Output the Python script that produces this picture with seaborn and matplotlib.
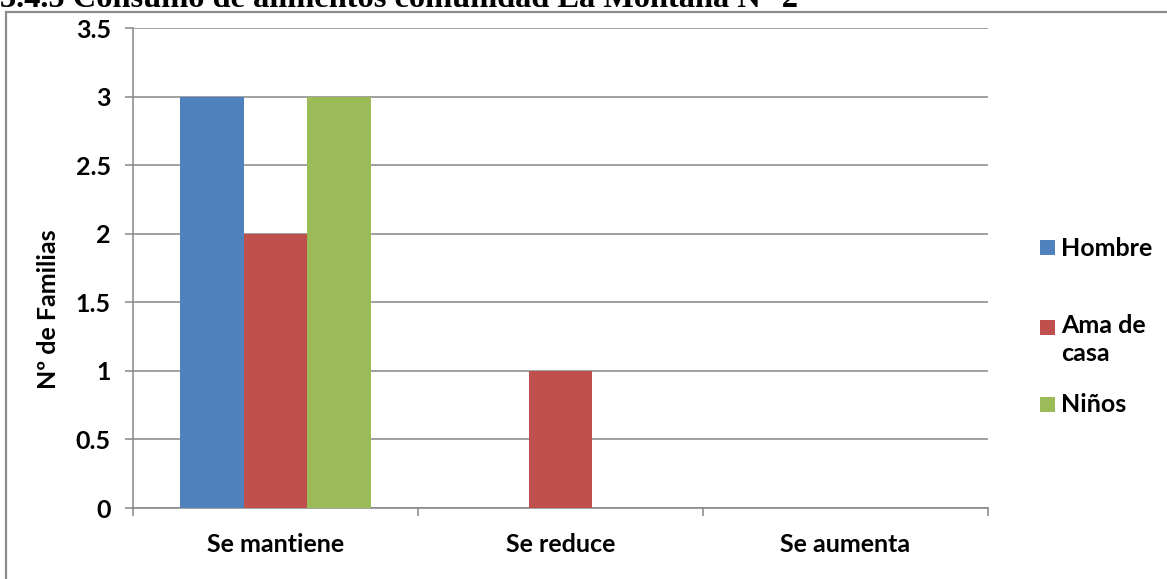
import matplotlib
matplotlib.use("Agg")
import matplotlib.pyplot as plt
from matplotlib.patches import Rectangle
import seaborn as sns
import pandas as pd

# Consumption change per group of family member
categorias = ["Se mantiene", "Se reduce", "Se aumenta"]
grupos = ["Hombre", "Ama de casa", "Niños"]
hombre = [3, 0, 0]
ama_de_casa = [2, 1, 0]
ninos = [3, 0, 0]
yticks = [0, 0.5, 1, 1.5, 2, 2.5, 3, 3.5]
titulo = "3.4.5 Consumo de alimentos comunidad La Montaña N° 2"
etiqueta_y = "Nº de Familias"
leyenda = ["Hombre", "Ama de\ncasa", "Niños"]

colores = ["#4F81BD", "#C0504D", "#9BBB59"]

rows = []
for g, vals in zip(grupos, [hombre, ama_de_casa, ninos]):
    for c, v in zip(categorias, vals):
        rows.append({"categoria": c, "grupo": g, "valor": v})
df = pd.DataFrame(rows)

sns.set_theme(style="white")
plt.rcParams["font.family"] = ["Lato", "DejaVu Sans"]

W, H = 1167, 579
FS = 18
fig = plt.figure(figsize=(W / 100, H / 100), dpi=100)
fig.patch.set_facecolor("white")

# outer chart frame (only left and top edges fall inside the image)
fig.patches.append(Rectangle((6 / W, -0.1), 1.2, 1.1 - 12 / H, transform=fig.transFigure,
                             fill=False, edgecolor="#8c8c8c", linewidth=1.6, zorder=0))

ax = fig.add_axes([133 / W, 1 - 508 / H, (988 - 133) / W, (508 - 28) / H])
sns.barplot(data=df, x="categoria", y="valor", hue="grupo", order=categorias,
            hue_order=grupos, palette=colores, saturation=1, width=0.667,
            legend=False, ax=ax, zorder=3, linewidth=0)

ax.set_xlim(-0.5, 2.5)
ax.set_ylim(0, 3.5)
ax.set_yticks(yticks)
ax.set_yticklabels([f"{t:g}" for t in yticks], fontsize=FS, fontweight="bold", color="black")
ax.yaxis.grid(True, color="#868686", linewidth=1.1, zorder=0)
ax.set_axisbelow(True)

ax.set_xticks(range(len(categorias)))
ax.set_xticklabels(categorias, fontsize=FS, fontweight="bold", color="black")
ax.set_xticks([-0.5, 0.5, 1.5, 2.5], minor=True)
ax.tick_params(axis="x", which="major", length=0, pad=18)
ax.tick_params(axis="x", which="minor", length=6, width=1.1, color="#868686", direction="out", bottom=True)
ax.tick_params(axis="y", length=6, width=1.1, color="#868686", direction="out", left=True, pad=10)

for s in ["top", "right"]:
    ax.spines[s].set_visible(False)
for s in ["left", "bottom"]:
    ax.spines[s].set_color("#868686")
    ax.spines[s].set_linewidth(1.1)

ax.set_xlabel("")
ax.set_ylabel(etiqueta_y, fontsize=FS, fontweight="bold", color="black")
ax.yaxis.set_label_coords(-73 / (988 - 133), 0.415)

# legend entries
ley_y = [248, 328, 405]
for lab, col, yy in zip(leyenda, colores, ley_y):
    fig.patches.append(Rectangle((1040 / W, 1 - (yy + 7) / H), 15 / W, 15 / H,
                                 transform=fig.transFigure, facecolor=col, edgecolor="none"))
    fig.text(1061 / W, 1 - (yy - 14 if "\n" in lab else yy) / H, lab, fontsize=FS,
             fontweight="bold", va="top" if "\n" in lab else "center",
             ha="left", color="black", linespacing=1.25)

# heading, partially above the top edge
fig.text(0 / W, 1 - 7 / H, titulo, fontsize=23.3, fontweight="bold", family="Liberation Serif",
         va="baseline", ha="left", color="black")

fig.savefig("out.png", dpi=100)
